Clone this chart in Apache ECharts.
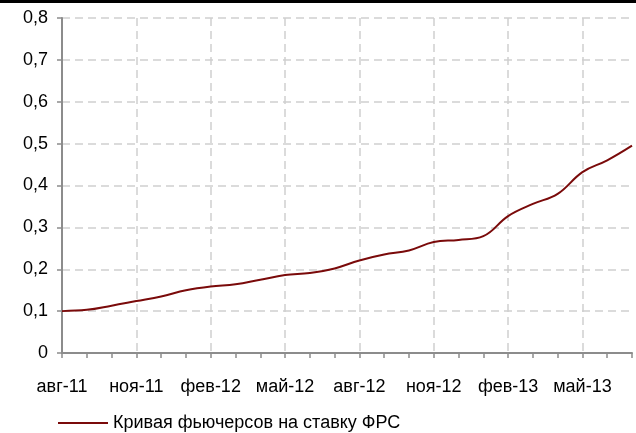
<!DOCTYPE html>
<html>
<head>
<meta charset="utf-8">
<script src="https://cdn.jsdelivr.net/npm/echarts@6/dist/echarts.min.js"></script>
<style>
html,body{margin:0;padding:0;background:#fff;}
#chart{width:636px;height:433px;}
</style>
</head>
<body>
<div id="chart"></div>
<script>
const categories = ['авг-11','сен-11','окт-11','ноя-11','дек-11','янв-12','фев-12','мар-12','апр-12','май-12','июн-12','июл-12','авг-12','сен-12','окт-12','ноя-12','дек-12','янв-13','фев-13','мар-13','апр-13','май-13','июн-13','июл-13'];
const seriesName = 'Кривая фьючерсов на ставку ФРС';
const futures = [0.100,0.103,0.113,0.124,0.135,0.150,0.159,0.164,0.175,0.186,0.191,0.202,0.221,0.235,0.245,0.265,0.270,0.279,0.327,0.356,0.380,0.432,0.460,0.495];
const yTicks = {min:0, max:0.8, interval:0.1};

const font = '"Liberation Sans Narrow","Arial Narrow","Liberation Sans",sans-serif';
const chart = echarts.init(document.getElementById('chart'), null, {renderer:'canvas'});
chart.setOption({
  animation:false,
  backgroundColor:'#fff',
  grid:{left:62, right:4, top:18, bottom:80, containLabel:false},
  graphic:[{type:'rect', shape:{x:0,y:0,width:636,height:3}, style:{fill:'#000'}}],
  legend:{
    left:53, top:409, itemWidth:50, itemHeight:2, icon:'rect', itemGap:10,
    textStyle:{fontFamily:font, fontSize:18, color:'#000'},
    data:[seriesName]
  },
  xAxis:{
    type:'category', data:categories, boundaryGap:false,
    axisLine:{lineStyle:{color:'#8c8c8c', width:2}},
    axisTick:{show:true, interval:0, length:5, lineStyle:{color:'#8c8c8c', width:1.5}},
    axisLabel:{interval:2, margin:25, fontFamily:font, fontSize:18, color:'#000'},
    splitLine:{show:true, interval:2, lineStyle:{color:'#cfcfcf', type:[8,5], width:1.5}}
  },
  yAxis:{
    type:'value', min:yTicks.min, max:yTicks.max, interval:yTicks.interval,
    axisLine:{show:true, lineStyle:{color:'#8c8c8c', width:2}},
    axisTick:{show:true, length:5, lineStyle:{color:'#8c8c8c', width:1.5}},
    axisLabel:{margin:14, fontFamily:font, fontSize:18, color:'#000',
      formatter:v=>v===0?'0':v.toFixed(1).replace('.',',')},
    splitLine:{show:true, lineStyle:{color:'#cfcfcf', type:[8,5], width:1.5}}
  },
  series:[{
    name:seriesName, type:'line', data:futures, smooth:0.4, showSymbol:false,
    lineStyle:{color:'#7a0a0a', width:2}, itemStyle:{color:'#7a0a0a'}
  }]
});
</script>
</body>
</html>
